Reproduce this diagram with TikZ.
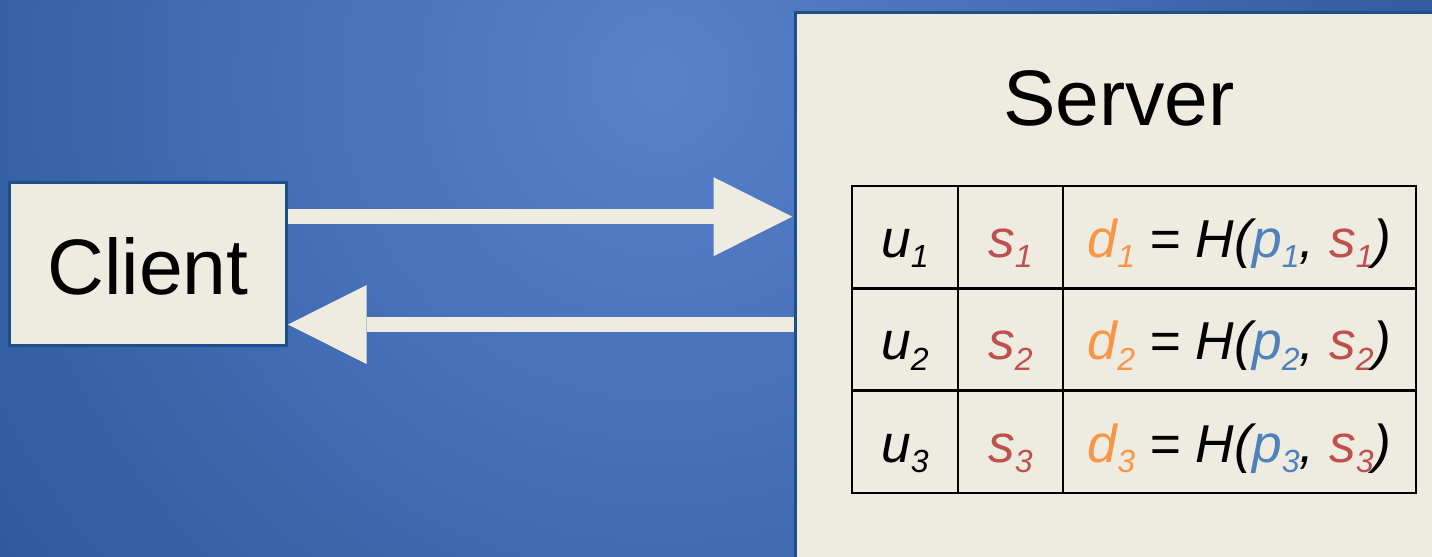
\documentclass[tikz,border=0pt]{standalone}
\usepackage{fontspec}
\setmainfont{Liberation Sans}
\usetikzlibrary{arrows.meta}

\definecolor{paper}{HTML}{EEECE1}
\definecolor{frame}{HTML}{1F4E89}
\definecolor{saltred}{HTML}{C0504D}
\definecolor{pwblue}{HTML}{4F81BD}
\definecolor{digestorange}{HTML}{F79646}
\definecolor{bgcentre}{HTML}{5881CC}
\definecolor{bgedge}{HTML}{0F3B79}

% small italic index, lowered below the baseline
\newcommand{\idx}[1]{\raisebox{-0.2em}{\fontsize{24}{24}\selectfont #1}}

\begin{document}
\begin{tikzpicture}[x=0.75pt, y=-0.75pt,
    box/.style={draw=frame, line width=2.25pt, fill=paper, inner sep=0pt},
    cell/.style={draw=black, line width=1.8pt, inner sep=0pt, minimum height=76.5pt,
      text height=30pt, text depth=0pt, font=\fontsize{40}{48}\selectfont\itshape},
    flow/.style={draw=paper, line width=11.25pt,
      -{Triangle[length=59pt, width=59.25pt, line width=0pt]}}]

    % Background
    \clip (0,0) rectangle (1432,557);
    \fill[bgedge] (0,0) rectangle (1432,557);
    \shade[inner color=bgcentre, outer color=bgedge] (660,80) circle[radius=1450];

    % Client and server
    \node[box, minimum width=207.75pt, minimum height=122.25pt, text height=46pt, text depth=0pt,
        font=\fontsize{59}{70}\selectfont] (client) at (148,264) {Client};
    \node[box, anchor=north west, minimum width=600pt, minimum height=500pt] (server) at (793.5,11) {};
    \node[font=\fontsize{59}{70}\selectfont, anchor=base] (title) at (1119,125) {Server};

    % Table of users, salts and digests
    \foreach \i/\y in {1/237,2/339.5,3/442}{
        \node[cell, minimum width=79.5pt] (u\i) at (905,\y) {u\idx{\i}};
        \node[cell, minimum width=78.75pt] (s\i) at (1010.5,\y) {\textcolor{saltred}{s\idx{\i}}};
        \node[cell, minimum width=264.75pt] (d\i) at (1239.5,\y)
            {\textcolor{digestorange}{d\idx{\i}} = H(\textcolor{pwblue}{p\idx{\i}}, \textcolor{saltred}{s\idx{\i}})};
    }

    % Request and response
    \draw[flow, shorten >=1pt] ([yshift=35.5pt]client.east) -- ([yshift=35.5pt]client.east -| server.west);
    \draw[flow] ([yshift=-45.4pt]client.east -| server.west) -- ([yshift=-45.4pt]client.east);
\end{tikzpicture}
\end{document}
